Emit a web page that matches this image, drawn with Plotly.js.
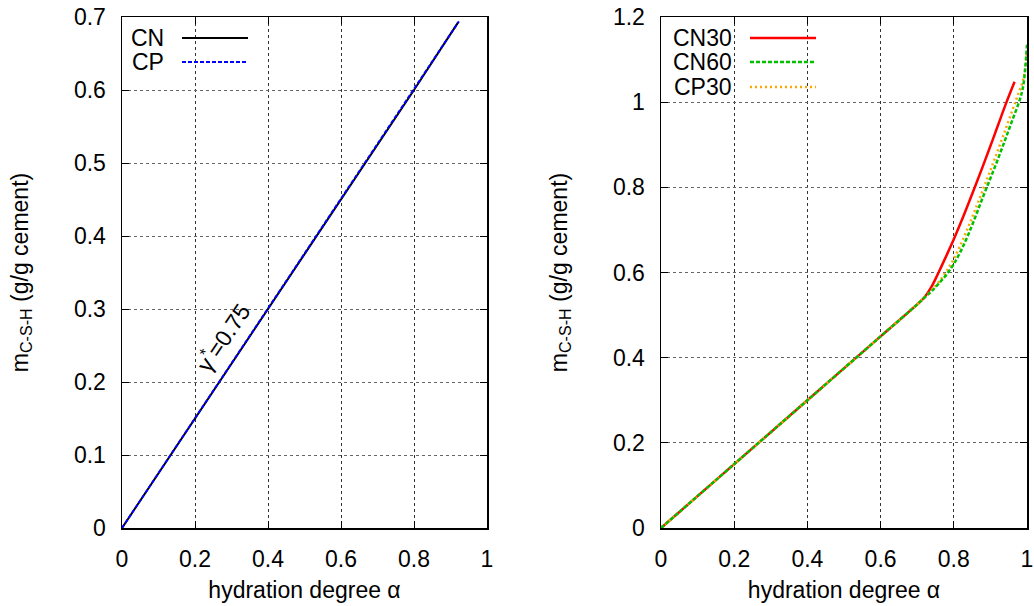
<!DOCTYPE html>
<html>
<head>
<meta charset="utf-8">
<script src="https://cdn.plot.ly/plotly-3.0.1.min.js"></script>
<style>html,body{margin:0;padding:0;background:#fff;}#plot{width:1034px;height:606px;}</style>
</head>
<body>
<div id="plot"></div>
<script>
// Left panel: gamma* = 0.75
const cnX = [0, 0.2, 0.4, 0.6, 0.8, 0.92];
const cnY = [0, 0.15, 0.30, 0.45, 0.60, 0.692];
const cpX = [0, 0.2, 0.4, 0.6, 0.8, 0.923];
const cpY = [0, 0.15, 0.30, 0.45, 0.60, 0.694];

// Right panel
const cn30X = [0, 0.2, 0.4, 0.6, 0.70, 0.72, 0.74, 0.76, 0.78, 0.80, 0.82, 0.84, 0.86, 0.88, 0.90, 0.92, 0.944, 0.966];
const cn30Y = [0, 0.15, 0.30, 0.45, 0.525, 0.542, 0.568, 0.603, 0.640, 0.678, 0.719, 0.762, 0.806, 0.851, 0.897, 0.944, 1.0, 1.048];
const cn60X = [0, 0.2, 0.4, 0.6, 0.70, 0.72, 0.74, 0.76, 0.78, 0.80, 0.82, 0.84, 0.86, 0.88, 0.90, 0.92, 0.94, 0.96, 0.98, 0.99, 1.0];
const cn60Y = [0, 0.15, 0.30, 0.45, 0.525, 0.541, 0.557, 0.575, 0.595, 0.620, 0.652, 0.690, 0.733, 0.778, 0.821, 0.865, 0.911, 0.958, 1.005, 1.04, 1.135];
const cp30X = [0, 0.2, 0.4, 0.6, 0.70, 0.72, 0.74, 0.76, 0.78, 0.80, 0.82, 0.84, 0.86, 0.88, 0.90, 0.92, 0.94, 0.96, 0.973, 0.99, 1.0];
const cp30Y = [0, 0.15, 0.30, 0.45, 0.525, 0.542, 0.559, 0.579, 0.603, 0.632, 0.668, 0.708, 0.751, 0.795, 0.840, 0.886, 0.933, 0.981, 1.012, 1.055, 1.115];

const xTicks = [0, 0.2, 0.4, 0.6, 0.8, 1];
const xTickText = ['0', '0.2', '0.4', '0.6', '0.8', '1'];
const yTicksL = [0, 0.1, 0.2, 0.3, 0.4, 0.5, 0.6, 0.7];
const yTickTextL = ['0', '0.1', '0.2', '0.3', '0.4', '0.5', '0.6', '0.7'];
const yTicksR = [0, 0.2, 0.4, 0.6, 0.8, 1, 1.2];
const yTickTextR = ['0', '0.2', '0.4', '0.6', '0.8', '1', '1.2'];

const legendL = ['CN', 'CP'];
const legendR = ['CN30', 'CN60', 'CP30'];

const FONT = 'Liberation Sans, Arial, Helvetica, sans-serif';
const fs = 23;

const traces = [
  {x: cnX, y: cnY, xaxis: 'x', yaxis: 'y', mode: 'lines', line: {color: '#000000', width: 2}, name: legendL[0]},
  {x: cpX, y: cpY, xaxis: 'x', yaxis: 'y', mode: 'lines', line: {color: '#0000ff', width: 2, dash: '4px,2px'}, name: legendL[1]},
  {x: cn30X, y: cn30Y, xaxis: 'x2', yaxis: 'y2', mode: 'lines', line: {color: '#ff0000', width: 2.5, shape: 'spline', smoothing: 1}, name: legendR[0]},
  {x: cp30X, y: cp30Y, xaxis: 'x2', yaxis: 'y2', mode: 'lines', line: {color: '#ffa500', width: 2.5, dash: '2px,3px', shape: 'spline', smoothing: 1}, name: legendR[2]},
  {x: cn60X, y: cn60Y, xaxis: 'x2', yaxis: 'y2', mode: 'lines', line: {color: '#00c000', width: 2.5, dash: '4px,2px', shape: 'spline', smoothing: 1}, name: legendR[1]}
];

function xax(domain, anchor) {
  return {
    domain: domain, anchor: anchor, range: [0, 1], tickvals: xTicks, ticktext: xTickText,
    ticks: 'inside', ticklen: 7, tickcolor: '#000', showline: true, linecolor: '#000', linewidth: 1.5,
    mirror: 'ticks', showgrid: true, gridcolor: '#333', griddash: 'dot', gridwidth: 1, zeroline: false,
    tickfont: {family: FONT, size: fs, color: '#000'}, ticklabelstandoff: 10,
    title: {text: 'hydration degree α', font: {family: FONT, size: fs, color: '#000'}, standoff: 11},
    automargin: false, fixedrange: true
  };
}
function yax(domain, anchor, range, tv, tt) {
  return {
    domain: domain, anchor: anchor, range: range, tickvals: tv, ticktext: tt,
    ticks: 'inside', ticklen: 7, tickcolor: '#000', showline: true, linecolor: '#000', linewidth: 1.5,
    mirror: 'ticks', showgrid: true, gridcolor: '#666', griddash: 'dot', gridwidth: 1, zeroline: false,
    tickfont: {family: FONT, size: fs, color: '#000'}, ticklabelstandoff: 10,
    title: {text: 'm<sub>C-S-H</sub> (g/g cement)', font: {family: FONT, size: fs, color: '#000'}, standoff: 39},
    automargin: false, fixedrange: true
  };
}

const yDom = [78 / 606, 589 / 606];
const layout = {
  width: 1034, height: 606,
  margin: {l: 0, r: 0, t: 0, b: 0},
  paper_bgcolor: '#fff', plot_bgcolor: '#fff',
  showlegend: false,
  font: {family: FONT, size: fs, color: '#000'},
  xaxis: xax([122 / 1034, 487 / 1034], 'y'),
  yaxis: yax(yDom, 'x', [0, 0.7], yTicksL, yTickTextL),
  xaxis2: xax([661 / 1034, 1027 / 1034], 'y2'),
  yaxis2: yax(yDom, 'x2', [0, 1.2], yTicksR, yTickTextR),
  annotations: [
    {xref: 'x', yref: 'y', x: 0.274, y: 0.262, text: 'γ<sup>*</sup>=0.75', textangle: -56, showarrow: false,
     font: {family: FONT, size: fs, color: '#000'}},
    // legend labels (gnuplot style: text left, sample right)
    {xref: 'paper', yref: 'paper', x: 166 / 1034, y: 1 - 38 / 606, xanchor: 'right', yanchor: 'middle', text: legendL[0], showarrow: false, font: {family: FONT, size: fs}},
    {xref: 'paper', yref: 'paper', x: 166 / 1034, y: 1 - 62 / 606, xanchor: 'right', yanchor: 'middle', text: legendL[1], showarrow: false, font: {family: FONT, size: fs}},
    {xref: 'paper', yref: 'paper', x: 734 / 1034, y: 1 - 38 / 606, xanchor: 'right', yanchor: 'middle', text: legendR[0], showarrow: false, font: {family: FONT, size: fs}},
    {xref: 'paper', yref: 'paper', x: 734 / 1034, y: 1 - 62 / 606, xanchor: 'right', yanchor: 'middle', text: legendR[1], showarrow: false, font: {family: FONT, size: fs}},
    {xref: 'paper', yref: 'paper', x: 734 / 1034, y: 1 - 87 / 606, xanchor: 'right', yanchor: 'middle', text: legendR[2], showarrow: false, font: {family: FONT, size: fs}}
  ],
  shapes: [
    {type: 'line', xref: 'paper', yref: 'paper', x0: 182 / 1034, x1: 248 / 1034, y0: 1 - 38 / 606, y1: 1 - 38 / 606, line: {color: '#000', width: 2}},
    {type: 'line', xref: 'paper', yref: 'paper', x0: 182 / 1034, x1: 248 / 1034, y0: 1 - 62 / 606, y1: 1 - 62 / 606, line: {color: '#0000ff', width: 2, dash: '4px,2px'}},
    {type: 'line', xref: 'paper', yref: 'paper', x0: 750 / 1034, x1: 816 / 1034, y0: 1 - 38 / 606, y1: 1 - 38 / 606, line: {color: '#ff0000', width: 2.5}},
    {type: 'line', xref: 'paper', yref: 'paper', x0: 750 / 1034, x1: 816 / 1034, y0: 1 - 62 / 606, y1: 1 - 62 / 606, line: {color: '#00c000', width: 2.5, dash: '4px,2px'}},
    {type: 'line', xref: 'paper', yref: 'paper', x0: 750 / 1034, x1: 816 / 1034, y0: 1 - 87 / 606, y1: 1 - 87 / 606, line: {color: '#ffa500', width: 2.5, dash: '2px,3px'}}
  ]
};

Plotly.newPlot('plot', traces, layout, {staticPlot: true, displayModeBar: false});
</script>
</body>
</html>
